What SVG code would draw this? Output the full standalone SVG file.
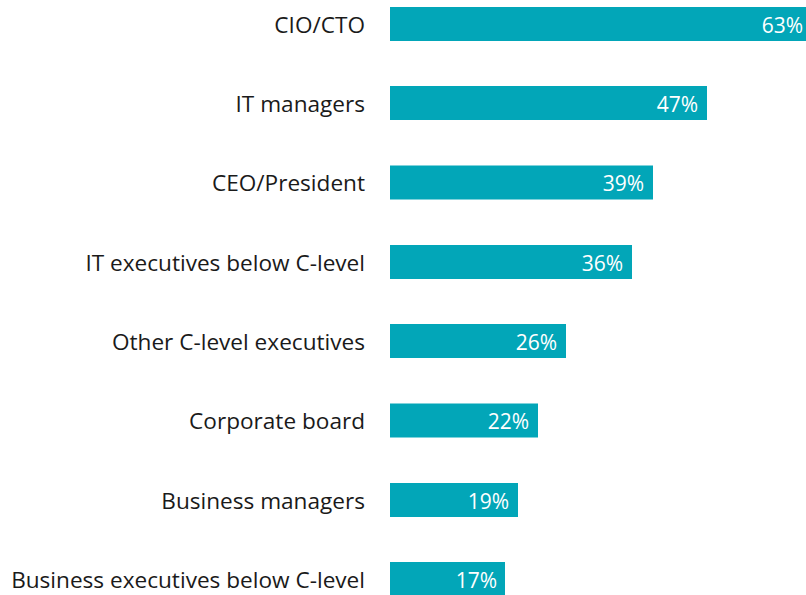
<svg xmlns="http://www.w3.org/2000/svg" width="806" height="595" viewBox="0 0 806 595">
<style>
text{font-family:"Open Sans","Liberation Sans",sans-serif;font-size:21px}
.lbl{fill:#1a1a1a;text-anchor:end;font-size:22.6px}
.val{fill:#ffffff;text-anchor:end}
.bar{fill:#02A6B8}
</style>
<rect width="806" height="595" fill="#ffffff"/>
<g id="row1"><text class="lbl" x="365" y="33">CIO/CTO</text><rect class="bar" x="390" y="7" width="425" height="34"/><text class="val" x="803" y="33">63%</text></g>
<g id="row2"><text class="lbl" x="365" y="112">IT managers</text><rect class="bar" x="390" y="86" width="317" height="34"/><text class="val" x="698" y="112">47%</text></g>
<g id="row3"><text class="lbl" x="365" y="191">CEO/President</text><rect class="bar" x="390" y="165.5" width="263" height="34"/><text class="val" x="644" y="191">39%</text></g>
<g id="row4"><text class="lbl" x="365" y="271">IT executives below C-level</text><rect class="bar" x="390" y="245" width="242" height="34"/><text class="val" x="623" y="271">36%</text></g>
<g id="row5"><text class="lbl" x="365" y="350">Other C-level executives</text><rect class="bar" x="390" y="324" width="176" height="34"/><text class="val" x="557" y="350">26%</text></g>
<g id="row6"><text class="lbl" x="365" y="429">Corporate board</text><rect class="bar" x="390" y="403.5" width="148" height="34"/><text class="val" x="529" y="429">22%</text></g>
<g id="row7"><text class="lbl" x="365" y="509">Business managers</text><rect class="bar" x="390" y="483" width="128" height="34"/><text class="val" x="509" y="509">19%</text></g>
<g id="row8"><text class="lbl" x="365" y="588">Business executives below C-level</text><rect class="bar" x="390" y="562" width="115" height="34"/><text class="val" x="497" y="588">17%</text></g>
</svg>
